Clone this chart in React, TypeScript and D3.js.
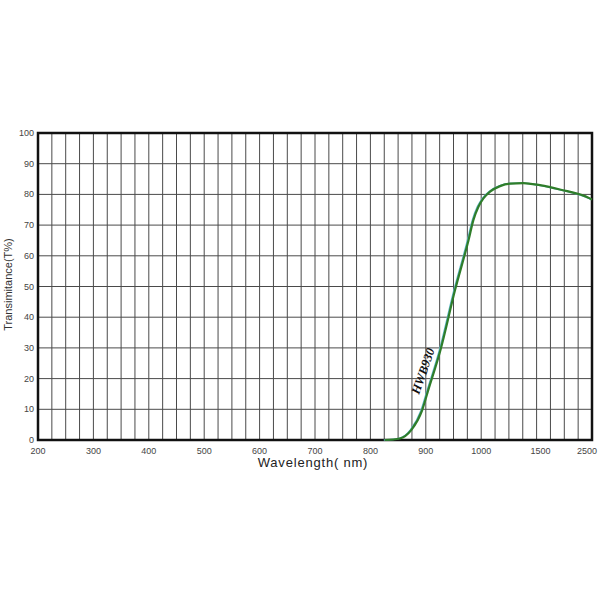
import React, { useEffect, useRef } from "react";
import * as d3 from "d3";

// axis ticks (wavelength axis is piecewise: 200..1000 by 100, then 1500, 2500)
const xTicks = [200, 300, 400, 500, 600, 700, 800, 900, 1000, 1500, 2500];
const yTicks = [0, 10, 20, 30, 40, 50, 60, 70, 80, 90, 100];

// HWB930 transmittance curve
const wavelength = [826, 853, 874, 893, 904, 926, 953, 977, 986, 995, 1020, 1080, 1170, 1260, 1380, 1560, 1920, 2460, 2500];
const transmit = [0, 0.5, 3.3, 9.5, 16, 29, 49, 65, 71.7, 76, 78.7, 80.9, 82.7, 83.5, 83.7, 83, 81.6, 78.7, 78.3];

const App: React.FC = () => {
  const svgRef = useRef<SVGSVGElement | null>(null);

  useEffect(() => {
    const width = 600;
    const height = 600;
    const margin = { top: 133, right: 8, bottom: 160, left: 38 };
    const innerWidth = width - margin.left - margin.right;
    const innerHeight = height - margin.top - margin.bottom;

    const svg = d3.select(svgRef.current);
    svg.selectAll("*").remove();

    const chart = svg
      .append("g")
      .attr("transform", `translate(${margin.left}, ${margin.top})`);

    const step = innerWidth / (xTicks.length - 1);
    const xScale = d3
      .scaleLinear()
      .domain(xTicks)
      .range(xTicks.map((_, i) => i * step));

    const yScale = d3.scaleLinear().domain([0, 100]).range([innerHeight, 0]);

    // vertical grid: 4 subdivisions per tick interval
    const minor: number[] = [];
    for (let i = 0; i < xTicks.length - 1; i++) {
      for (let j = 0; j < 4; j++) {
        minor.push(xTicks[i] + ((xTicks[i + 1] - xTicks[i]) * j) / 4);
      }
    }
    chart
      .selectAll(".vgrid")
      .data(minor)
      .enter()
      .append("line")
      .attr("x1", (d) => xScale(d))
      .attr("x2", (d) => xScale(d))
      .attr("y1", 0)
      .attr("y2", innerHeight)
      .attr("stroke", "#4a4a4a")
      .attr("stroke-width", 1);

    chart
      .selectAll(".hgrid")
      .data(yTicks)
      .enter()
      .append("line")
      .attr("x1", 0)
      .attr("x2", innerWidth)
      .attr("y1", (d) => yScale(d))
      .attr("y2", (d) => yScale(d))
      .attr("stroke", "#4a4a4a")
      .attr("stroke-width", 1);

    // frame
    chart
      .append("rect")
      .attr("x", 0)
      .attr("y", 0)
      .attr("width", innerWidth)
      .attr("height", innerHeight)
      .attr("fill", "none")
      .attr("stroke", "#111")
      .attr("stroke-width", 2.5);

    // tick labels (last one pulled in so it stays on the page)
    chart
      .selectAll(".xlab")
      .data(xTicks)
      .enter()
      .append("text")
      .attr("x", (d, i) =>
        i === xTicks.length - 1 ? innerWidth + 5 : xScale(d) + (d === 1500 ? 4 : 0)
      )
      .attr("y", innerHeight + 14)
      .attr("text-anchor", (_, i) => (i === xTicks.length - 1 ? "end" : "middle"))
      .attr("font-family", "Liberation Sans, Arial, sans-serif")
      .attr("font-size", 9)
      .attr("fill", "#444")
      .text((d) => d);

    chart
      .selectAll(".ylab")
      .data(yTicks)
      .enter()
      .append("text")
      .attr("x", -4)
      .attr("y", (d) => yScale(d) + 3)
      .attr("text-anchor", "end")
      .attr("font-family", "Liberation Sans, Arial, sans-serif")
      .attr("font-size", 9)
      .attr("fill", "#444")
      .text((d) => d);

    // axis titles
    chart
      .append("text")
      .attr("x", xScale(700) - 2)
      .attr("y", innerHeight + 27)
      .attr("text-anchor", "middle")
      .attr("font-family", "Liberation Sans, Arial, sans-serif")
      .attr("font-size", 13)
      .attr("letter-spacing", 0.8)
      .attr("fill", "#222")
      .text("Wavelength( nm)");

    chart
      .append("text")
      .attr("transform", `translate(-26, ${yScale(50) - 2}) rotate(-90)`)
      .attr("text-anchor", "middle")
      .attr("font-family", "Liberation Sans, Arial, sans-serif")
      .attr("font-size", 11)
      .attr("fill", "#333")
      .text("Transimitance(T%)");

    // curve
    const points = wavelength.map((w, i) => ({ w, t: transmit[i] }));
    const line = d3
      .line<{ w: number; t: number }>()
      .x((d) => xScale(d.w))
      .y((d) => yScale(d.t))
      .curve(d3.curveMonotoneX);

    chart
      .append("path")
      .attr("d", line(points)!)
      .attr("transform", "translate(-1, 0)")
      .attr("fill", "none")
      .attr("stroke", "#5fb8c8")
      .attr("stroke-width", 1.6);

    chart
      .append("path")
      .attr("d", line(points)!)
      .attr("fill", "none")
      .attr("stroke", "#2f7d2a")
      .attr("stroke-width", 2.2);

    // curve label
    chart
      .append("text")
      .attr("transform", `translate(${xScale(902)}, ${yScale(22)}) rotate(-71)`)
      .attr("text-anchor", "middle")
      .attr("font-family", "Liberation Serif, Times New Roman, serif")
      .attr("font-weight", "bold")
      .attr("font-style", "italic")
      .attr("font-size", 12.5)
      .attr("fill", "#111")
      .text("HWB930");
  }, []);

  return (
    <svg
      ref={svgRef}
      width={600}
      height={600}
      style={{ position: "absolute", left: 0, top: 0, background: "#fff" }}
    />
  );
};

export default App;
